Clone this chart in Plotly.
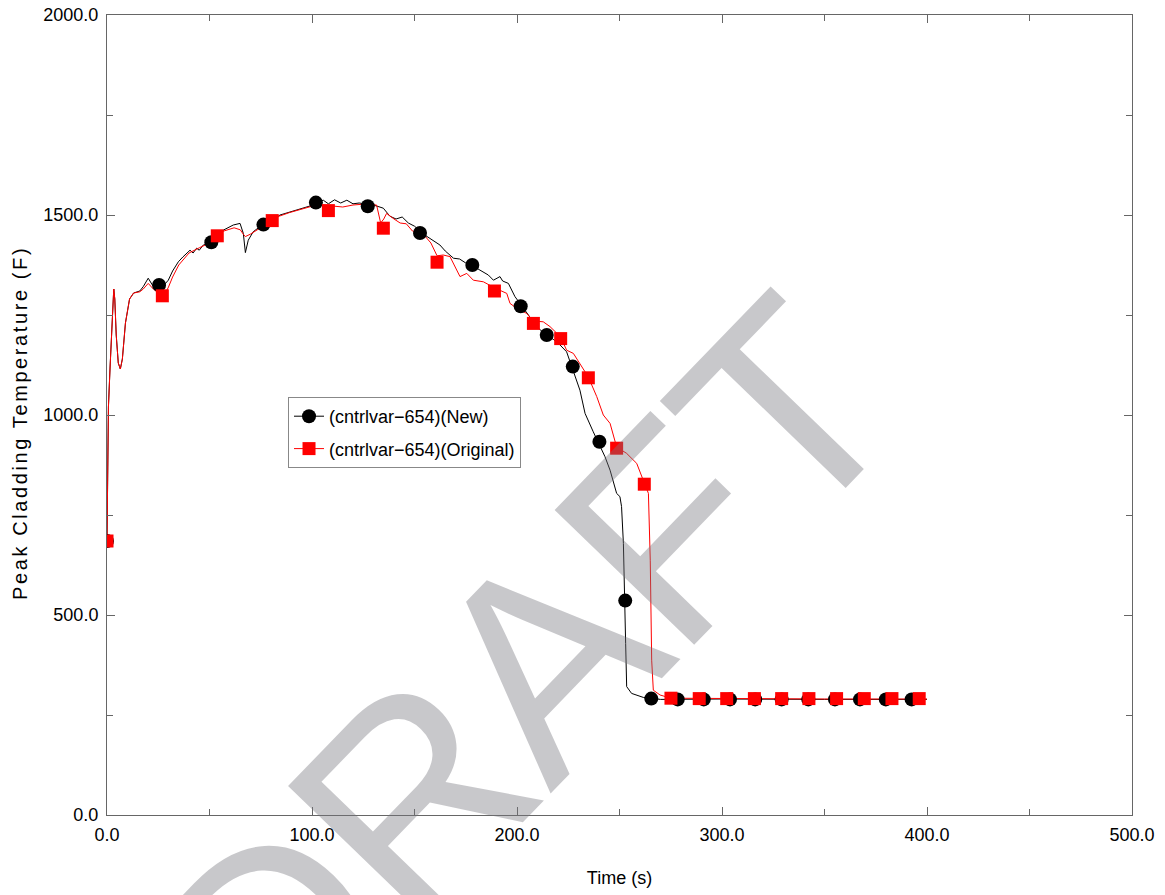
import plotly.graph_objects as go

# Peak cladding temperature, new model (black)
new_time = [0, 0.3, 0.7, 1.5, 2.5, 3.3, 3.8, 4.5, 5.5, 6.5, 7.5, 9, 11, 13, 16, 17.7, 20.1, 22.6,
            27, 29.9, 32, 34.8, 37, 40.5, 42, 43.7, 45, 47, 54, 56.7, 61.6, 64.9, 66.5, 67.5,
            68.9, 71.3, 74.6, 80, 84.4, 89.3, 95.8, 100.6, 105.5, 108, 111, 114, 117, 120,
            123, 130, 134.8, 138, 141, 144, 147, 150, 155, 158, 160, 162.4, 165, 169, 172,
            175, 181, 183.6, 186, 188.5, 191.7, 193, 195.8, 199, 204.7, 207, 209.6, 212, 218,
            221, 224.2, 230.7, 233.2, 235.6, 237.2, 242.9, 245.4, 248.6, 250.2, 251, 251.9,
            253, 253.5, 255.9, 261.6, 270, 300, 350, 400]
new_temp = [685, 900, 1020, 1120, 1250, 1315, 1290, 1200, 1130, 1115, 1140, 1230, 1290, 1305,
            1310, 1321, 1342, 1321, 1320, 1337, 1360, 1383, 1395, 1412, 1405, 1417, 1412, 1425,
            1445, 1462, 1475, 1479, 1454, 1406, 1437, 1458, 1471, 1485, 1500, 1508, 1517, 1525,
            1537, 1528, 1538, 1530, 1537, 1528, 1530, 1525, 1517, 1497, 1490, 1495, 1480, 1472,
            1450, 1440, 1432, 1425, 1410, 1392, 1390, 1380, 1365, 1358, 1350, 1337, 1346, 1335,
            1329, 1296, 1258, 1240, 1221, 1210, 1188, 1175, 1158, 1062, 1004, 975, 958, 896,
            862, 804, 796, 771, 679, 429, 321, 304, 294, 289, 290, 289, 289]
new_mark_time = [0, 25.4, 50.9, 76.3, 101.9, 127.2, 152.7, 178.2, 201.8, 214.5, 227.2, 240.2,
                 252.8, 265.5, 278.4, 291.1, 303.9, 316.2, 329.1, 342.1, 355.1, 367.3, 379.9,
                 392.5]
new_mark_temp = [685, 1325, 1432, 1476, 1531, 1522, 1455, 1375, 1272, 1200, 1121, 933, 536,
                 291, 289, 289, 289, 289, 289, 289, 289, 289, 289, 289]

# Peak cladding temperature, original model (red)
orig_time = [0, 0.3, 0.7, 1.5, 2.5, 3.3, 3.8, 4.5, 5.5, 6.5, 7.5, 9, 11, 13, 16, 17.7, 20.1,
             22.6, 25, 28, 30, 32, 35, 40, 45, 50, 54, 57, 62, 65, 66.5, 67.5, 69.9, 73, 76,
             80, 84, 89, 95, 100, 105, 110, 115, 120, 125, 131.5, 133.5, 135, 136.4, 140, 143,
             146, 149, 152, 155, 158, 161, 164, 167.3, 172.2, 175.5, 178.7, 183.6, 189, 195,
             196.6, 199.8, 204.7, 208, 212.8, 216.1, 221.3, 224.2, 227.5, 232.4, 234.8, 238.9,
             242.1, 245.4, 247, 248.6, 253.5, 258.4, 262.1, 264.1, 265, 265.7, 266.5, 269.8,
             275, 300, 350, 400]
orig_temp = [685, 900, 1020, 1120, 1250, 1315, 1290, 1200, 1130, 1115, 1140, 1230, 1290, 1305,
             1308, 1315, 1329, 1315, 1305, 1300, 1320, 1345, 1375, 1405, 1418, 1430, 1448, 1460,
             1468, 1463, 1452, 1446, 1452, 1462, 1470, 1484, 1497, 1506, 1515, 1522, 1525, 1522,
             1520, 1525, 1527, 1525, 1480, 1490, 1504, 1490, 1480, 1478, 1460, 1455, 1448, 1430,
             1398, 1400, 1396, 1346, 1354, 1337, 1333, 1318, 1304, 1279, 1267, 1254, 1235, 1233,
             1221, 1195, 1162, 1154, 1112, 1095, 1046, 1000, 979, 950, 920, 904, 879, 830, 804,
             637, 387, 312, 300, 292, 291, 290, 290]
orig_mark_time = [0, 27, 53.8, 80.6, 108, 134.8, 161, 189, 208, 221.3, 234.8, 248.6, 262.1,
                  275.1, 288.9, 302.3, 315.8, 329.1, 342.4, 355.9, 369.4, 382.9, 396.2]
orig_mark_temp = [685, 1298, 1448, 1486, 1511, 1467, 1382, 1310, 1229, 1191, 1093, 917, 827,
                  292, 291, 291, 291, 291, 291, 291, 291, 291, 291]

series_names = ["(cntrlvar\u2212654)(New)", "(cntrlvar\u2212654)(Original)"]
x_title = "Time (s)"
y_title = "Peak Cladding Temperature (F)"

LABEL_FONT = "Liberation Sans Narrow, Arial Narrow, Liberation Sans, Arial, sans-serif"
AXIS_COLOR = "#666666"

fig = go.Figure()

styles = [
    dict(color="black", symbol="circle", size=14,
         t=new_time, v=new_temp, mt=new_mark_time, mv=new_mark_temp),
    dict(color="red", symbol="square", size=13,
         t=orig_time, v=orig_temp, mt=orig_mark_time, mv=orig_mark_temp),
]

for name, st in zip(series_names, styles):
    fig.add_trace(go.Scatter(x=st["t"], y=st["v"], mode="lines", legendgroup=name,
                             showlegend=False, line=dict(color=st["color"], width=1)))
for name, st in zip(series_names, styles):
    fig.add_trace(go.Scatter(x=st["mt"], y=st["mv"], mode="markers", legendgroup=name,
                             showlegend=False,
                             marker=dict(color=st["color"], symbol=st["symbol"], size=st["size"])))
# legend entries (line with marker)
for name, st in zip(series_names, styles):
    fig.add_trace(go.Scatter(x=[None], y=[None], mode="lines+markers", name=name,
                             legendgroup=name,
                             line=dict(color=st["color"], width=1),
                             marker=dict(color=st["color"], symbol=st["symbol"], size=st["size"])))

fig.update_xaxes(
    range=[0, 500], dtick=100, tick0=0, tickformat=".1f", automargin=False,
    ticks="inside", ticklen=8, tickcolor=AXIS_COLOR, tickwidth=1, ticklabelstandoff=3,
    minor=dict(dtick=50, ticks="inside", ticklen=6, tickcolor=AXIS_COLOR),
    showline=True, linecolor=AXIS_COLOR, linewidth=1, mirror="ticks",
    showgrid=False, zeroline=False,
    tickfont=dict(family=LABEL_FONT, size=18, color="black"),
    title=dict(text=x_title, font=dict(family=LABEL_FONT, size=18, color="black"),
               standoff=27),
)
fig.update_yaxes(
    range=[0, 2000], dtick=500, tick0=0, tickformat=".1f", automargin=False,
    ticks="inside", ticklen=8, tickcolor=AXIS_COLOR, tickwidth=1, ticklabelstandoff=4,
    minor=dict(dtick=250, ticks="inside", ticklen=6, tickcolor=AXIS_COLOR),
    showline=True, linecolor=AXIS_COLOR, linewidth=1, mirror="ticks",
    showgrid=False, zeroline=False,
    tickfont=dict(family=LABEL_FONT, size=18, color="black"),
)

# vertical axis title, spaced out
fig.add_annotation(
    text=f'<span style="letter-spacing:2.6px">{y_title}</span>',
    xref="paper", yref="paper", x=-0.085, y=0.49,
    xanchor="center", yanchor="middle", textangle=-90, showarrow=False,
    font=dict(family="Liberation Sans, Arial, sans-serif", size=20, color="black"),
)

# watermark
fig.add_annotation(
    text='<span style="letter-spacing:-4px">DRAFT</span>',
    xref="paper", yref="paper", x=0.4050, y=0.166,
    xanchor="center", yanchor="middle", textangle=-46, showarrow=False,
    font=dict(family="Liberation Sans, Arial, sans-serif", size=282,
              color="rgba(117,117,125,0.4)"),
)

fig.update_layout(
    width=1165, height=895,
    margin=dict(l=107, r=33, t=15, b=80),
    paper_bgcolor="white", plot_bgcolor="white",
    legend=dict(x=0.1766, y=0.5225, xanchor="left", yanchor="top",
                bgcolor="white", bordercolor="#888888", borderwidth=1,
                font=dict(family=LABEL_FONT, size=18, color="black"),
                itemsizing="trace", tracegroupgap=6),
)

fig.write_html("out.html")
